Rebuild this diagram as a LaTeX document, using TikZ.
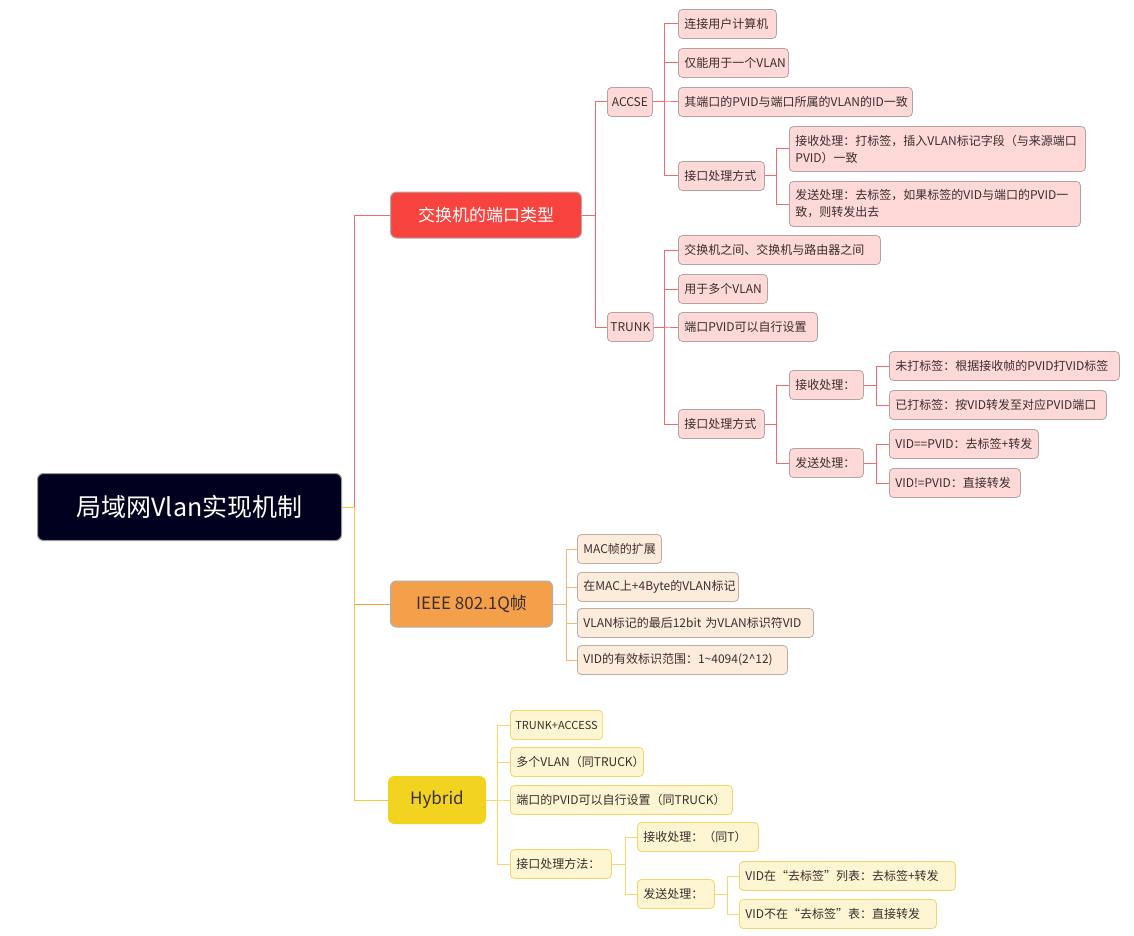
\documentclass[tikz,border=0pt]{standalone}
\usepackage{fontspec}
\setmainfont{Noto Sans CJK SC}
\definecolor{txt}{HTML}{3A2E2E}
\definecolor{rootfill}{HTML}{02001F}
\definecolor{redfill}{HTML}{F9433E}
\definecolor{orgfill}{HTML}{F4A04B}
\definecolor{yelfill}{HTML}{F2D320}
\definecolor{pkfill}{HTML}{FFD8D8}
\definecolor{pkdraw}{HTML}{B3A3A3}
\definecolor{pefill}{HTML}{FDEBDC}
\definecolor{pedraw}{HTML}{BBAFA5}
\definecolor{ylfill}{HTML}{FEF5D2}
\definecolor{yldraw}{HTML}{F4D56B}
\definecolor{redline}{HTML}{F36A6A}
\definecolor{orgline}{HTML}{F7B872}
\definecolor{orgmain}{HTML}{F5A040}
\definecolor{yelmain}{HTML}{F5C842}
\definecolor{yelline}{HTML}{F6D86E}
\definecolor{boxgray}{HTML}{9A9A9A}
\begin{document}
\begin{tikzpicture}[x=1pt,y=-1pt,
  base/.style={rounded corners=4pt, line width=0.8pt, anchor=west, inner xsep=6pt, inner ysep=0pt,
    font=\fontsize{12}{17}\selectfont, text=txt, align=left},
  pk/.style={base, fill=pkfill, draw=pkdraw, minimum height=29pt},
  pk2/.style={base, fill=pkfill, draw=pkdraw, minimum height=45pt},
  pe/.style={base, fill=pefill, draw=pedraw, minimum height=29pt},
  yl/.style={base, fill=ylfill, draw=yldraw, minimum height=29pt},
  topic/.style={rounded corners=6pt, line width=1pt, anchor=west, inner sep=0pt,
    font=\fontsize{17}{20}\selectfont},
  lred/.style={draw=redline, line width=1pt},
  lorg/.style={draw=orgline, line width=1pt},
  lyel/.style={draw=yelline, line width=1pt},
]
\useasboundingbox (0,0) rectangle (1134,936);

% spine coordinates
\coordinate (s0) at (354,0);
\coordinate (sA) at (595,0);
\coordinate (sB) at (664,0);
\coordinate (sC) at (776,0);
\coordinate (sD) at (876,0);
\coordinate (sE) at (566,0);
\coordinate (sF) at (497,0);
\coordinate (sG) at (625,0);
\coordinate (sH) at (727,0);

% root
\node[topic, fill=rootfill, draw=boxgray, text=white, minimum width=304pt, minimum height=67pt,
  font=\fontsize{25}{28}\selectfont] (root) at (37,507) {局域网Vlan实现机制};

% level 1
\node[topic, fill=redfill, draw=boxgray!80, text=white, minimum width=191pt, minimum height=46pt] (sw) at (390,215) {交换机的端口类型};
\node[topic, fill=orgfill, draw=boxgray!80, text=txt, minimum width=162pt, minimum height=46pt] (ieee) at (390,604) {IEEE 802.1Q帧};
\node[topic, fill=yelfill, draw=yelfill, text=txt, minimum width=97pt, minimum height=47pt] (hyb) at (388,800) {Hybrid};

% level 2 red
\node[pk, inner xsep=3pt, minimum width=45pt, align=center] (accse) at (607,102) {ACCSE};
\node[pk, inner xsep=3pt, minimum width=45pt, align=center] (trunk) at (607,327) {TRUNK};

\node[pk, text width=86pt] (a1) at (678,24) {连接用户计算机};
\node[pk, text width=98pt] (a2) at (678,63) {仅能用于一个VLAN};
\node[pk, text width=222pt] (a3) at (678,102) {其端口的PVID与端口所属的VLAN的ID一致};
\node[pk, text width=74pt] (a4) at (678,176) {接口处理方式};
\node[pk2, text width=284pt] (a41) at (789,149) {接收处理：打标签，插入VLAN标记字段（与来源端口\\PVID）一致};
\node[pk2, text width=279pt] (a42) at (789,204) {发送处理：去标签，如果标签的VID与端口的PVID一\\致，则转发出去};

\node[pk, text width=190pt] (t1) at (678,250) {交换机之间、交换机与路由器之间};
\node[pk, text width=77pt] (t2) at (678,289) {用于多个VLAN};
\node[pk, text width=127pt] (t3) at (678,327) {端口PVID可以自行设置};
\node[pk, text width=74pt] (t4) at (678,424) {接口处理方式};
\node[pk, text width=62pt] (t41) at (789,385) {接收处理：};
\node[pk, text width=62pt] (t42) at (789,463) {发送处理：};
\node[pk, text width=218pt] (t411) at (889,366) {未打标签：根据接收帧的PVID打VID标签};
\node[pk, text width=205pt] (t412) at (889,405) {已打标签：按VID转发至对应PVID端口};
\node[pk, text width=137pt] (t421) at (889,444) {VID==PVID：去标签+转发};
\node[pk, text width=119pt] (t422) at (889,483) {VID!=PVID：直接转发};

% IEEE children
\node[pe, text width=72pt] (i1) at (577,549) {MAC帧的扩展};
\node[pe, text width=149pt] (i2) at (577,587) {在MAC上+4Byte的VLAN标记};
\node[pe, text width=224pt] (i3) at (577,623) {VLAN标记的最后12bit 为VLAN标识符VID};
\node[pe, text width=198pt] (i4) at (577,660) {VID的有效标识范围：1\textasciitilde 4094(2\textasciicircum 12)};

% Hybrid children
\node[yl, inner xsep=5pt, font=\fontsize{11}{14}\selectfont] (h1) at (510,725) {TRUNK+ACCESS};
\node[yl, text width=121pt] (h2) at (510,762) {多个VLAN（同TRUCK）};
\node[yl, text width=210pt] (h3) at (510,800) {端口的PVID可以自行设置（同TRUCK）};
\node[yl, text width=89pt] (h4) at (510,864) {接口处理方法：};
\node[yl, text width=109pt] (h41) at (637,837) {接收处理：（同T）};
\node[yl, text width=65pt] (h42) at (637,894) {发送处理：};
\node[yl, text width=204pt] (h421) at (739,876) {VID在“去标签”列表：去标签+转发};
\node[yl, text width=185pt] (h422) at (739,914) {VID不在“去标签”表：直接转发};

% root connectors
\draw[draw=orgmain, line width=1pt] (root.east) -- (root.east -| s0) |- (ieee.west);
\draw[draw=yelmain, line width=1pt] (root.east) -- (root.east -| s0) |- (hyb.west);
\draw[lred] (root.east -| s0) |- (sw.west);

% red branch
\foreach \c in {accse,trunk} \draw[lred] (sw.east) -- (sw.east -| sA) |- (\c.west);
\foreach \c in {a1,a2,a3,a4} \draw[lred] (accse.east) -- (accse.east -| sB) |- (\c.west);
\foreach \c in {a41,a42} \draw[lred] (a4.east) -- (a4.east -| sC) |- (\c.west);
\foreach \c in {t1,t2,t3,t4} \draw[lred] (trunk.east) -- (trunk.east -| sB) |- (\c.west);
\foreach \c in {t41,t42} \draw[lred] (t4.east) -- (t4.east -| sC) |- (\c.west);
\foreach \c in {t411,t412} \draw[lred] (t41.east) -- (t41.east -| sD) |- (\c.west);
\foreach \c in {t421,t422} \draw[lred] (t42.east) -- (t42.east -| sD) |- (\c.west);

% orange branch
\foreach \c in {i1,i2,i3,i4} \draw[lorg] (ieee.east) -- (ieee.east -| sE) |- (\c.west);

% yellow branch
\foreach \c in {h1,h2,h3,h4} \draw[lyel] (hyb.east) -- (hyb.east -| sF) |- (\c.west);
\foreach \c in {h41,h42} \draw[lyel] (h4.east) -- (h4.east -| sG) |- (\c.west);
\foreach \c in {h421,h422} \draw[lyel] (h42.east) -- (h42.east -| sH) |- (\c.west);
\end{tikzpicture}
\end{document}
